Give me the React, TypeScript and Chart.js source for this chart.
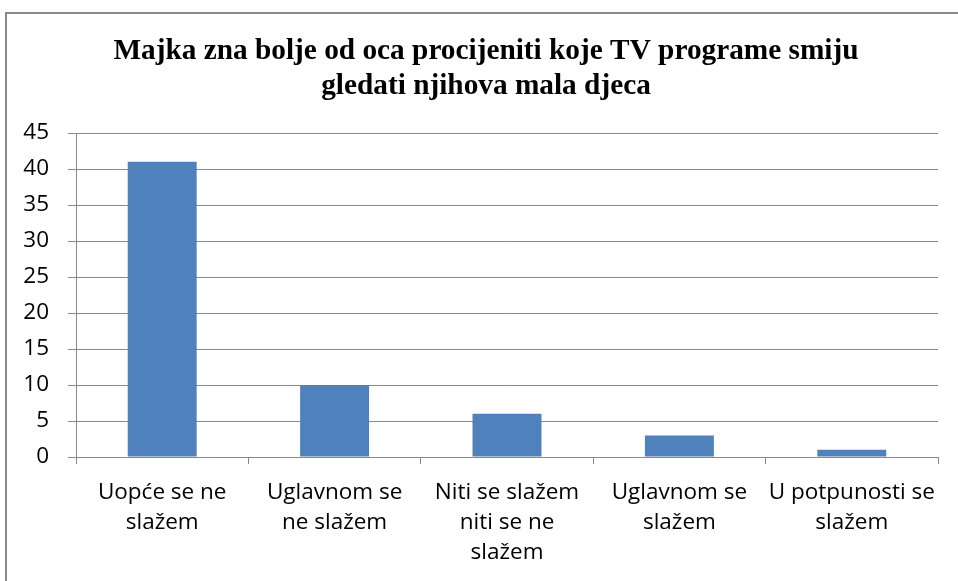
import React, { useEffect, useRef } from "react";
import { Chart, registerables } from "chart.js";

Chart.register(...registerables);

const titleLines = [
  "Majka zna bolje od oca procijeniti koje TV programe smiju",
  "gledati njihova mala djeca",
];
const categories: string[][] = [
  ["Uopće se ne", "slažem"],
  ["Uglavnom se", "ne slažem"],
  ["Niti se slažem", "niti se ne", "slažem"],
  ["Uglavnom se", "slažem"],
  ["U potpunosti se", "slažem"],
];
const values = [41, 10, 6, 3, 1];
const yMin = 0;
const yMax = 45;
const yStep = 5;

const GRID = "#898989";
const BAR = "#4F81BD";
const TICK_FONT = { family: "'Open Sans'", size: 22.5, lineHeight: 1.333 };

const titlePlugin = {
  id: "centeredTitle",
  afterDraw(chart: any) {
    const ctx = chart.ctx;
    ctx.save();
    ctx.fillStyle = "#000";
    ctx.font = "bold 29.3px 'Liberation Serif'";
    ctx.textAlign = "center";
    ctx.textBaseline = "alphabetic";
    const cx = 486;
    const firstBaseline = 59;
    const lineGap = 35;
    titleLines.forEach((line, i) => {
      ctx.fillText(line, cx, firstBaseline + i * lineGap);
    });
    ctx.restore();
  },
};

export default function App() {
  const ref = useRef<HTMLCanvasElement | null>(null);
  useEffect(() => {
    if (!ref.current) return;
    const chart = new Chart(ref.current, {
      type: "bar",
      data: {
        labels: categories,
        datasets: [
          {
            data: values,
            backgroundColor: BAR,
            borderWidth: 0,
            barPercentage: 0.4,
            categoryPercentage: 1,
          },
        ],
      },
      options: {
        responsive: false,
        animation: false,
        layout: { padding: { left: 0, right: 20, top: 133, bottom: 0 } },
        plugins: {
          legend: { display: false },
          tooltip: { enabled: false },
          title: { display: false },
        },
        scales: {
          x: {
            afterFit: (s: any) => {
              s.height = 124;
            },
            grid: {
              display: true,
              drawOnChartArea: false,
              drawTicks: true,
              tickLength: 7,
              color: GRID,
              offset: true,
            },
            border: { display: true, color: GRID, width: 1 },
            ticks: {
              color: "#000",
              font: TICK_FONT,
              padding: 13.5,
              maxRotation: 0,
              minRotation: 0,
              autoSkip: false,
            },
          },
          y: {
            min: yMin,
            max: yMax,
            afterFit: (s: any) => {
              s.width = 76;
            },
            grid: { color: GRID, tickLength: 8, drawTicks: true },
            border: { display: true, color: GRID, width: 1 },
            ticks: {
              stepSize: yStep,
              color: "#000",
              font: TICK_FONT,
              padding: 19,
            },
          },
        },
      },
      plugins: [titlePlugin],
    } as any);
    return () => chart.destroy();
  }, []);
  return (
    <div style={{ position: "absolute", left: 0, top: 0, width: 958, height: 581, overflow: "hidden", background: "#fff" }}>
      <div
        style={{
          position: "absolute",
          left: 5,
          top: 12,
          width: 1000,
          height: 1000,
          border: "2px solid #898989",
          boxSizing: "border-box",
        }}
      />
      <canvas ref={ref} width={958} height={581} style={{ position: "absolute", left: 0, top: 0 }} />
    </div>
  );
}
